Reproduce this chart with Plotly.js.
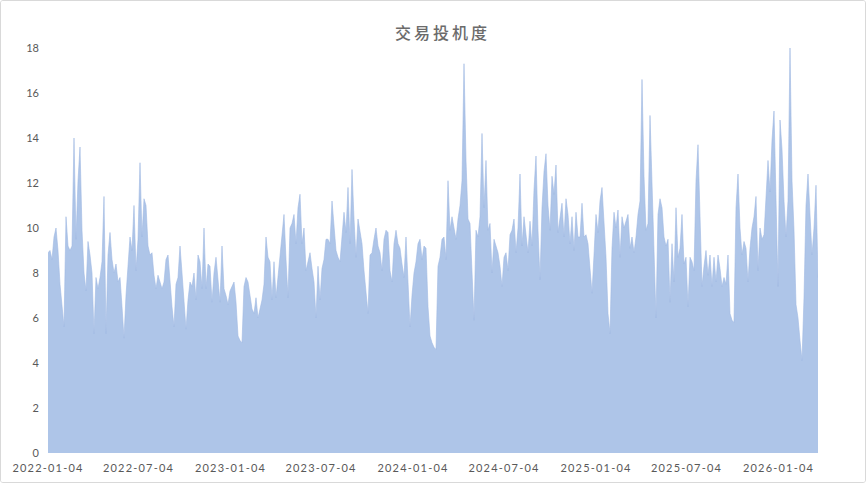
<!DOCTYPE html>
<html>
<head>
<meta charset="utf-8">
<script src="https://cdn.plot.ly/plotly-3.0.1.min.js"></script>
<style>
  html, body { margin: 0; padding: 0; background: #ffffff; }
  #chart {
    width: 866px; height: 483px;
    box-sizing: border-box;
    border: 1px solid #d9d9d9;
    border-radius: 3px;
    overflow: hidden;
  }
  #chart .xtick text { letter-spacing: 1.2px; }
  #chart .gtitle { letter-spacing: 3px; }
</style>
</head>
<body>
<div id="chart"></div>
<script>
// Speculation index, sampled every 4 calendar days starting 2022-01-04
const startDate = '2022-01-04';
const stepDays = 4;

const v2022 = [
  8.9, 9.0, 8.6, 9.6, 10.0, 9.0, 7.5, 6.5, 5.6, 10.5,
  9.2, 9.0, 9.2, 14.0, 9.5, 12.1, 13.6, 9.9, 8.0, 7.2,
  9.4, 8.8, 8.0, 5.3, 7.8, 7.3, 7.8, 8.5, 11.4, 5.3,
  8.8, 9.8, 8.6, 8.0, 8.4, 7.6, 7.8, 6.5, 5.1, 7.0,
  8.2, 9.6, 9.0, 11.0, 8.1, 9.5, 12.9, 9.6, 11.3, 11.0,
  9.2, 8.8, 8.9, 7.9, 7.3, 7.9, 7.6, 7.3, 7.6, 8.6,
  8.8,
  7.5, 6.5, 5.6, 7.5, 7.8, 9.2, 8.0, 6.5, 5.5, 6.8,
  7.6, 7.4, 8.0, 6.8, 8.8, 8.5, 7.3, 10.0, 7.3, 8.4,
  8.3, 6.7, 8.0, 8.7, 7.8, 6.7, 9.2, 7.3, 7.0, 6.6,
  7.2
];
const v2023 = [
  7.4, 7.6, 6.7, 5.2, 5.0, 4.9, 7.4, 7.8, 7.6,
  7.0, 6.4, 6.2, 6.9, 6.0, 6.4, 6.8, 7.5, 9.6, 8.7,
  8.5, 6.8, 8.5, 6.9, 7.8, 9.0, 9.9, 10.6, 8.6, 6.9,
  10.0, 10.2, 10.6,
  9.3, 10.9, 11.5, 9.3, 10.0, 8.1, 8.5, 8.9, 8.2, 7.6,
  6.0, 8.3, 6.8, 8.2, 8.6, 9.5, 9.5, 9.3, 11.2, 10.0,
  9.0, 8.7, 8.5, 9.6, 10.7, 9.8, 11.8, 9.3, 12.6, 10.4,
  8.7, 10.4, 9.8, 9.3, 8.1, 7.2, 6.2, 8.8, 8.9, 9.5,
  10.0, 9.2, 8.9, 8.1, 9.5, 9.9, 9.8, 8.1, 7.6, 9.3,
  9.9, 9.3, 9.1, 8.4, 7.8, 9.6, 7.5, 5.6, 7.0
];
const v2024 = [
  8.0, 8.5, 9.3,
  9.5, 8.6, 9.2, 9.1, 6.5, 5.2, 4.9, 4.7, 4.6, 8.3,
  8.7, 9.5, 9.6, 8.6, 12.1, 9.9, 10.5, 10.0, 9.5, 10.4,
  11.0, 12.1, 17.3, 13.0, 10.4, 10.2, 8.0, 5.9, 9.9, 9.6,
  10.5, 14.2, 10.9, 13.0, 9.9, 10.2, 8.0, 9.5, 9.2, 8.9,
  8.3, 7.4, 8.7, 8.9, 8.1, 9.7, 9.9, 10.4, 8.9, 10.0,
  12.4, 9.2, 10.5, 9.6, 8.9, 10.3, 9.2, 11.7, 13.2, 9.9,
  7.7, 10.9, 12.5,
  13.3, 11.0, 9.9, 12.3, 11.5, 12.8, 9.8, 10.6, 11.1, 9.6,
  11.3, 10.6, 9.3, 10.5, 9.0, 10.7, 9.6, 9.6, 11.1, 9.6,
  9.7, 9.3, 8.1, 7.1, 8.8
];
const v2025 = [
  10.6, 9.8, 11.2, 11.8, 10.2,
  8.7, 6.2, 5.3, 9.1, 10.7, 10.0, 10.8, 8.7, 10.5, 10.0,
  10.3, 10.6, 9.1, 9.6, 8.9, 9.6, 10.6, 11.2, 16.6, 12.3,
  9.9, 10.2, 15.0, 11.6, 8.4, 6.0, 10.6, 11.3, 10.9, 9.6,
  9.2,
  9.5, 6.7, 9.3, 7.6, 10.9, 8.7, 9.1, 10.6, 8.4, 8.7,
  6.5, 8.7, 8.5, 8.1, 12.1, 13.7, 10.9, 7.4, 8.3, 9.0,
  7.9, 8.8, 7.4, 8.7, 7.6, 8.8, 8.2, 7.4, 7.8, 7.5,
  8.8, 6.2, 5.9, 5.8, 10.9, 12.4, 10.0, 8.8, 9.4, 9.1,
  7.6, 9.1, 10.0, 10.5, 11.4, 8.1, 10.0, 9.5, 9.7, 11.5,
  13.0, 11.6, 13.9, 15.2, 11.8, 7.4
];
const v2026 = [
  14.8, 13.5, 11.2, 9.6, 11.2, 18.0, 12.1, 9.9, 6.6, 6.0,
  5.0, 4.1, 6.9, 11.0, 12.4, 10.2, 8.8, 10.0, 11.9, 7.8
];

const yTicks = [0, 2, 4, 6, 8, 10, 12, 14, 16, 18];
const chartTitle = '交易投机度';

const values = [].concat(v2022, v2023, v2024, v2025, v2026);

// Build the date for every sample
function addDays(iso, n) {
  const d = new Date(iso + 'T00:00:00Z');
  d.setUTCDate(d.getUTCDate() + n);
  return d.toISOString().slice(0, 10);
}
const dates = values.map((_, i) => addDays(startDate, i * stepDays));

const labelFont = { family: 'Lato, "Noto Sans", sans-serif', size: 11, color: '#595959' };

const trace = {
  type: 'scatter',
  mode: 'lines',
  x: dates,
  y: values,
  fill: 'tozeroy',
  fillcolor: '#aec5e8',
  line: { color: '#9fb9e2', width: 0.6 },
  hoverinfo: 'x+y'
};

const layout = {
  width: 864,
  height: 481,
  margin: { l: 47, r: 47, t: 47, b: 29 },
  paper_bgcolor: '#ffffff',
  plot_bgcolor: '#ffffff',
  showlegend: false,
  title: {
    text: chartTitle,
    font: { family: '"Noto Sans CJK SC", sans-serif', size: 16, color: '#6b6b6b', weight: 500 },
    xref: 'container', x: 441.5 / 864, xanchor: 'center',
    yref: 'container', y: 1 - 32 / 481, yanchor: 'middle'
  },
  xaxis: {
    type: 'date',
    range: [dates[0], dates[dates.length - 1]],
    tick0: startDate,
    dtick: 'M6',
    tickformat: '%Y-%m-%d',
    ticks: '',
    showgrid: false,
    zeroline: false,
    showline: false,
    tickfont: labelFont,
    ticklabelstandoff: 7
  },
  yaxis: {
    range: [0, 18],
    tickvals: yTicks,
    ticktext: yTicks.map(String),
    ticks: '',
    showgrid: false,
    zeroline: false,
    showline: false,
    tickfont: labelFont,
    ticklabelstandoff: 8
  }
};

Plotly.newPlot('chart', [trace], layout, { displayModeBar: false, staticPlot: true });
</script>
</body>
</html>
